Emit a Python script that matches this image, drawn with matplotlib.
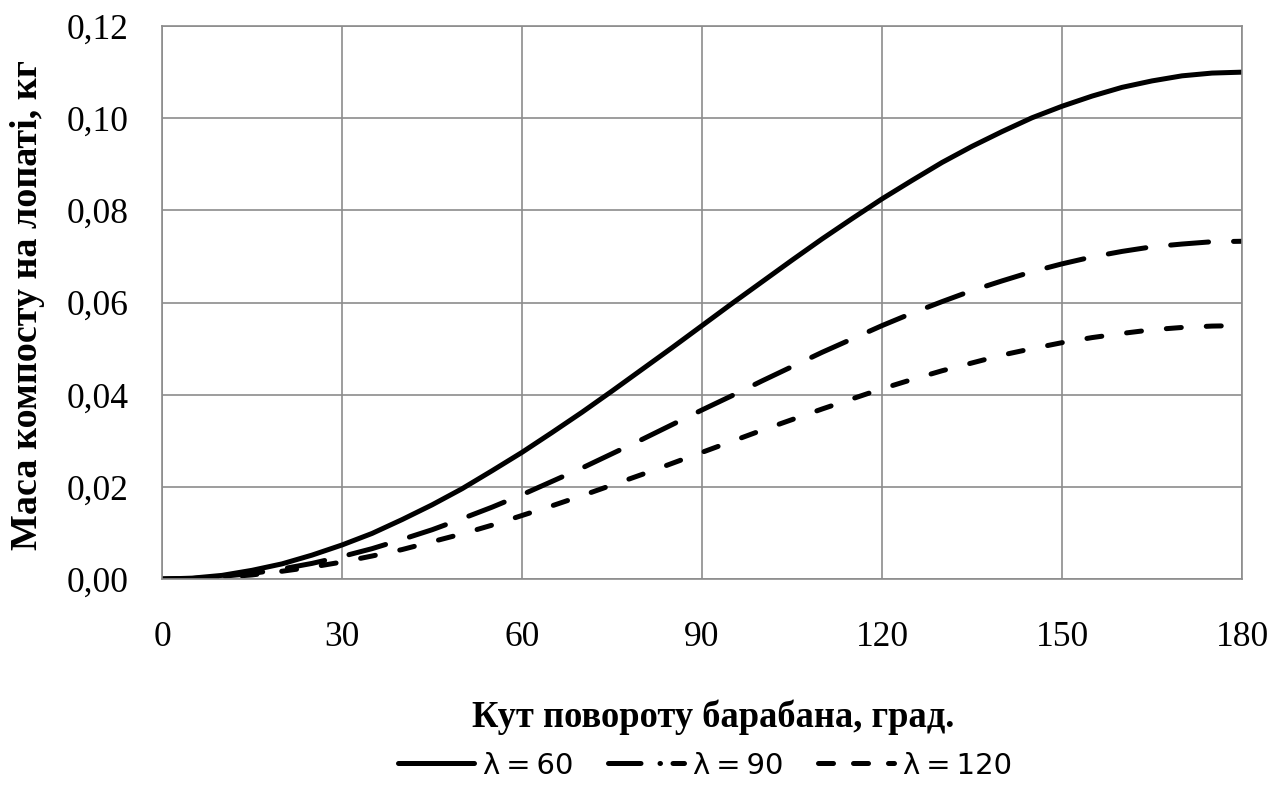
import matplotlib.pyplot as plt
from matplotlib.lines import Line2D

# Values (every 5 degrees)
angle = [0, 5, 10, 15, 20, 25, 30, 35, 40, 45, 50, 55, 60, 65, 70, 75, 80, 85, 90,
         95, 100, 105, 110, 115, 120, 125, 130, 135, 140, 145, 150, 155, 160, 165, 170, 175, 180]
mass_60 = [0, 0.0002, 0.0008, 0.0019, 0.0033, 0.0052, 0.0074, 0.0099, 0.0129, 0.0161,
           0.0196, 0.0235, 0.0275, 0.0318, 0.0362, 0.0408, 0.0455, 0.0502, 0.0550,
           0.0598, 0.0645, 0.0692, 0.0738, 0.0782, 0.0825, 0.0865, 0.0904, 0.0939,
           0.0971, 0.1001, 0.1026, 0.1048, 0.1067, 0.1081, 0.1092, 0.1098, 0.1100]
mass_90 = [0, 0.0001, 0.0006, 0.0012, 0.0022, 0.0034, 0.0049, 0.0066, 0.0086, 0.0107,
           0.0131, 0.0156, 0.0183, 0.0212, 0.0241, 0.0272, 0.0303, 0.0335, 0.0367,
           0.0398, 0.0430, 0.0461, 0.0492, 0.0521, 0.0550, 0.0577, 0.0602, 0.0626,
           0.0647, 0.0667, 0.0684, 0.0699, 0.0711, 0.0721, 0.0727, 0.0732, 0.0733]
mass_120 = [0, 0.0001, 0.0004, 0.0009, 0.0017, 0.0026, 0.0037, 0.0050, 0.0064, 0.0081,
            0.0098, 0.0117, 0.0138, 0.0159, 0.0181, 0.0204, 0.0227, 0.0251, 0.0275,
            0.0299, 0.0323, 0.0346, 0.0369, 0.0391, 0.0413, 0.0433, 0.0452, 0.0469,
            0.0486, 0.0500, 0.0513, 0.0524, 0.0533, 0.0541, 0.0546, 0.0549, 0.0550]
labels = ["λ\u2009=\u200960", "λ\u2009=\u200990", "λ\u2009=\u2009120"]

x_ticks = [0, 30, 60, 90, 120, 150, 180]
y_ticks = [0, 0.02, 0.04, 0.06, 0.08, 0.10, 0.12]

plt.rcParams["font.family"] = ["Liberation Serif", "DejaVu Serif"]

fig = plt.figure(figsize=(12.82, 7.9), dpi=100)
ax = fig.add_axes([0.1264, 0.267, 0.8424, 0.700])

lw = 3.6
ax.plot(angle, mass_60, color="black", lw=lw, solid_capstyle="round", solid_joinstyle="round")
ax.plot(angle, mass_90, color="black", lw=lw, dashes=(7.6, 5.0), dash_capstyle="round")
ax.plot(angle, mass_120, color="black", lw=lw, dashes=(3.0, 5.0), dash_capstyle="round")

ax.set_xlim(0, 180)
ax.set_ylim(0, 0.12)
ax.set_xticks(x_ticks)
ax.set_yticks(y_ticks)
ax.set_yticklabels([f"{v:.2f}".replace(".", ",") for v in y_ticks])
ax.tick_params(length=0, labelsize=25.5)
ax.tick_params(axis="y", pad=24)
ax.tick_params(axis="x", pad=30)
ax.grid(True, color="#8c8c8c", lw=1.2)
for s in ax.spines.values():
    s.set_color("#8c8c8c")
    s.set_linewidth(1.2)
ax.set_axisbelow(True)

xl = ax.set_xlabel("Кут повороту барабана, град.", fontsize=26, fontweight="bold")
yl = ax.set_ylabel("Маса компосту на лопаті, кг", fontsize=26, fontweight="bold")
ax.xaxis.set_label_coords(0.51, -0.218)
ax.yaxis.set_label_coords(-0.108, 0.495)

# fit the axis titles to the lengths seen in the reference (483 px / 490 px)
r = fig.canvas.get_renderer()
xl.set_fontsize(26 * 483 / xl.get_window_extent(r).width)
yl.set_fontsize(26 * 490 / yl.get_window_extent(r).height)

handles = [
    Line2D([], [], color="black", lw=lw, solid_capstyle="round"),
    Line2D([], [], color="black", lw=lw, dashes=(6.5, 3.8, 0.1, 2.5), dash_capstyle="round"),
    Line2D([], [], color="black", lw=lw, dashes=(3.0, 4.0), dash_capstyle="round"),
]
fig.legend(handles, labels, loc="center", bbox_to_anchor=(0.55, 0.031), ncol=3,
           frameon=False, handlelength=2.6, handletextpad=0.3, columnspacing=1.2,
           prop={"family": ["DejaVu Sans"], "size": 21})

fig.savefig("out.png", dpi=100)
